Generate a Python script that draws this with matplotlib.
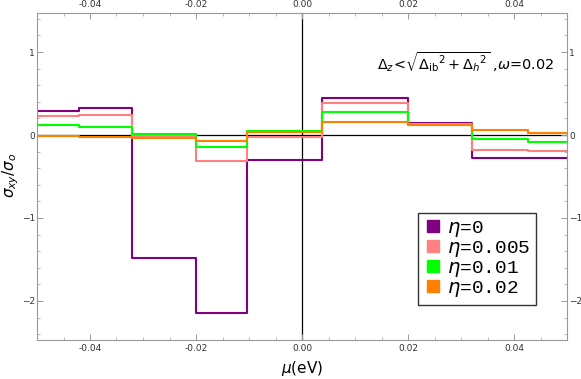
import numpy as np
import matplotlib.pyplot as plt
from matplotlib.ticker import MultipleLocator, FormatStrFormatter

# Bordes de los escalones en mu (eV)
mu_bordes = [-0.05, -0.042, -0.032, -0.020, -0.0104, 0.0037, 0.020, 0.032, 0.0427, 0.05]

# Valores de sigma_xy/sigma_o en cada tramo
eta_0 = [0.29, 0.32, -1.48, -2.14, -0.30, 0.45, 0.15, -0.28, -0.28]
eta_0005 = [0.23, 0.24, -0.01, -0.31, -0.02, 0.38, 0.13, -0.18, -0.19]
eta_001 = [0.12, 0.10, 0.01, -0.14, 0.05, 0.28, 0.12, -0.05, -0.08]
eta_002 = [-0.01, -0.02, -0.04, -0.07, 0.04, 0.16, 0.12, 0.06, 0.03]

etiquetas = ['0', '0.005', '0.01', '0.02']
colores = ['#800080', '#ff8080', '#00ff00', '#ff8000']
series = [eta_0, eta_0005, eta_001, eta_002]

fig = plt.figure(figsize=(5.81, 3.79), dpi=100)
ax = fig.add_axes([37/581, 1 - 340/379, 530/581, 327/379])

# Lineas de referencia en cero
ax.axhline(0, color='black', lw=0.9, zorder=1)
ax.axvline(0, color='black', lw=0.9, zorder=1)

for vals, col in zip(series, colores):
    ax.step(mu_bordes, vals + [vals[-1]], where='post', color=col, lw=1.5, zorder=2)

ax.set_xlim(-0.05, 0.05)
ax.set_ylim(-2.47, 1.47)

# Ejes estilo Mathematica: marcas hacia dentro en los cuatro lados
for lado in ax.spines.values():
    lado.set_color('#999999')
    lado.set_linewidth(0.8)
ax.xaxis.set_major_locator(MultipleLocator(0.02))
ax.xaxis.set_minor_locator(MultipleLocator(0.005))
ax.yaxis.set_major_locator(MultipleLocator(1))
ax.yaxis.set_minor_locator(MultipleLocator(0.2))
ax.xaxis.set_major_formatter(FormatStrFormatter('%.2f'))
ax.tick_params(which='both', direction='in', color='#999999', top=True, right=True,
               labeltop=True, labelright=True, labelsize=6.5, labelcolor='#333333', pad=1.5)
ax.tick_params(axis='x', pad=3)
ax.tick_params(which='major', length=4, width=0.7)
ax.tick_params(which='minor', length=2, width=0.5)

ax.set_xlabel(r'$\mu$(eV)', fontsize=11, labelpad=4)
ax.set_ylabel(r'$\sigma_{xy}/\sigma_o$', fontsize=11)
ax.yaxis.set_label_coords(-0.03, 0.505)

ax.text(0.0309, 0.88, r'$\Delta_z\!<\!\sqrt{\Delta_{\rm ib}{}^2+\Delta_h{}^2}$ ,$\omega$=0.02',
        fontsize=10.4, ha='center', va='center')

# Leyenda con cuadrados de color
manejadores = [plt.Line2D([], [], marker='s', ls='none', color=c, markersize=8) for c in colores]
ley = ax.legend(manejadores, [r'$\eta$=' + e for e in etiquetas],
                loc='lower right', bbox_to_anchor=(0.9415, 0.107), borderaxespad=0,
                prop={'family': 'Liberation Mono', 'size': 14},
                frameon=True, fancybox=False, edgecolor='black',
                handletextpad=0.2, handlelength=1.0, borderpad=0.3, labelspacing=0.0)
ley.get_frame().set_linewidth(1.0)

plt.savefig('out.png', dpi=100)
